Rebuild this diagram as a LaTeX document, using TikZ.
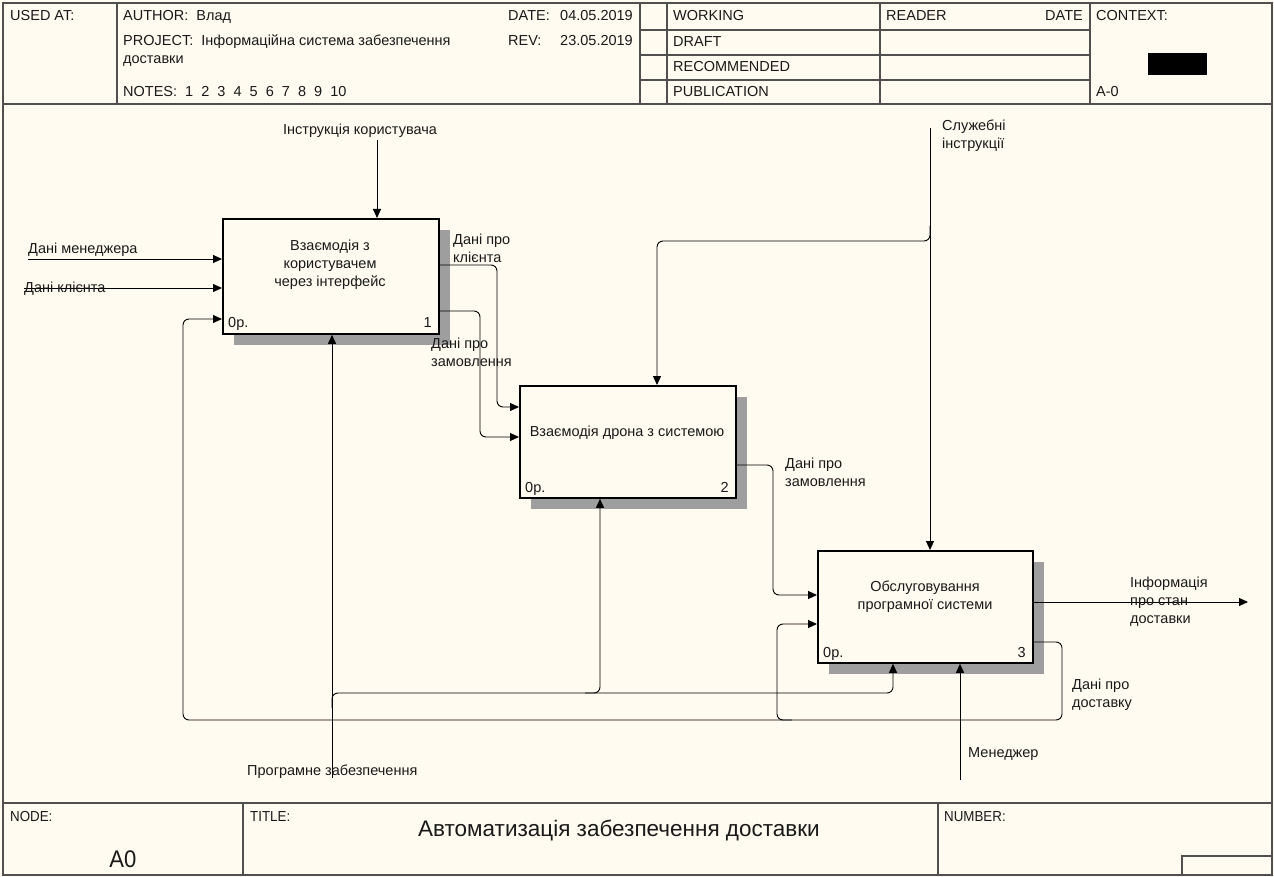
\documentclass[tikz,border=0pt]{standalone}
\usepackage{fontspec}
\setmainfont{Liberation Sans}
\usetikzlibrary{arrows.meta,calc}
\definecolor{bg}{RGB}{255,251,240}
\definecolor{frm}{RGB}{80,80,80}
\begin{document}
\begin{tikzpicture}[x=1pt,y=-1pt,
  every node/.style={font=\fontsize{14.5}{18}\selectfont, inner sep=0pt, text=black!90},
  box/.style={draw, line width=1.8pt, fill=bg, anchor=north west},
  shade/.style={fill=black!38},
  arr/.style={line width=0.9pt, rounded corners=6pt, -{Triangle[length=9pt,width=8pt]}},
  frame/.style={line width=1.4pt, draw=frm},
  hd/.style={anchor=base west},
  hdr/.style={anchor=base east},
  lbl/.style={anchor=west, align=left},
  small/.style={anchor=base west},
]
\fill[bg] (0,0) rectangle (1274,877);
\useasboundingbox (0,0) rectangle (1274,877);

% ---------- frame ----------
\draw[frame, line width=1.8pt] (3,3) rectangle (1272,875);
\draw[frame] (3,104) -- (1272,104);
\draw[frame] (117,3) -- (117,104);
\draw[frame] (640,3) -- (640,104);
\draw[frame] (667,3) -- (667,104);
\draw[frame] (880,3) -- (880,104);
\draw[frame] (1090,3) -- (1090,104);
\draw[frame] (640,30) -- (1090,30);
\draw[frame] (640,55) -- (1090,55);
\draw[frame] (640,80) -- (1090,80);
\fill[black] (1148,53) rectangle (1207,75);

\draw[frame] (3,803) -- (1272,803);
\draw[frame] (243,803) -- (243,875);
\draw[frame] (938,803) -- (938,875);
\draw[frame] (1182,875) -- (1182,856) -- (1272,856);

% header texts
\node[hd] (usedat) at (10,21) {USED AT:};
\node[hd] (author) at (123,21) {AUTHOR:\ \ Влад};
\node[hd] (datel) at (508,21) {DATE:};
\node[hdr] (datev) at (633,21) {04.05.2019};
\node[hd] (project) at (123,46) {PROJECT:\ \ Інформаційна система забезпечення};
\node[hd] (project2) at (123,64) {доставки};
\node[hd] (revl) at (508,46) {REV:};
\node[hdr] (revv) at (633,46) {23.05.2019};
\node[hd] (notes) at (123,97) {NOTES:\ \ 1\ \ 2\ \ 3\ \ 4\ \ 5\ \ 6\ \ 7\ \ 8\ \ 9\ \ 10};
\node[hd] (working) at (673,21) {WORKING};
\node[hd] (draft) at (673,47) {DRAFT};
\node[hd] (recom) at (673,72) {RECOMMENDED};
\node[hd] (publ) at (673,97) {PUBLICATION};
\node[hd] (reader) at (886,21) {READER};
\node[hdr] (rdate) at (1083,21) {DATE};
\node[hd] (context) at (1096,21) {CONTEXT:};
\node[hd] (aminus) at (1096,97) {A-0};

% footer texts
\node[small] (nodel) at (10,821) {\scalebox{0.92}[1]{NODE:}};
\node[small] (titlel) at (250,821) {\scalebox{0.92}[1]{TITLE:}};
\node[small] (numberl) at (944,821) {\scalebox{0.92}[1]{NUMBER:}};
\node[font=\fontsize{22.5}{26}\selectfont, anchor=base] (title) at (619,836) {Автоматизація забезпечення доставки};
\node[font=\fontsize{24}{26}\selectfont, anchor=base] (a0) at (123,867) {\scalebox{0.92}[1]{A0}};

% ---------- shadows ----------
\fill[shade] (234,230) rectangle (450,345);
\fill[shade] (531,397) rectangle (747,509);
\fill[shade] (829,562) rectangle (1044,674);

% ---------- boxes ----------
\node[box, minimum width=216pt, minimum height=115pt] (b1) at (222,218) {};
\node[box, minimum width=216pt, minimum height=112pt] (b2) at (519,385) {};
\node[box, minimum width=215pt, minimum height=112pt] (b3) at (817,550) {};

\node[align=center] (t1) at (330,265) {Взаємодія з\\користувачем\\через інтерфейс};
\node[align=center] (t2) at (627,433) {Взаємодія дрона з системою};
\node[align=center] (t3) at (925,597) {Обслуговування\\програмної системи};

\node[hd] (n1a) at (228,327) {0р.};
\node[hdr] (n1b) at (432,327) {1};
\node[hd] (n2a) at (525,492) {0р.};
\node[hdr] (n2b) at (729,492) {2};
\node[hd] (n3a) at (823,657) {0р.};
\node[hdr] (n3b) at (1026,657) {3};

% ---------- coordinates ----------
\coordinate (ic) at (377,140);
\coordinate (dm) at (28,259);
\coordinate (dk) at (24,288);
\coordinate (pz) at (332,778);
\coordinate (pzb) at (332,693);
\coordinate (m2) at (600,693);
\coordinate (m3) at (893,693);
\coordinate (mg) at (960,780);
\coordinate (si) at (930,128);
\coordinate (sib) at (930,241);
\coordinate (c2) at (657,241);
\coordinate (out) at (1248,602);

% ---------- connectors ----------
\draw[arr] (ic) -- (ic |- b1.north);
\draw[arr] (dm) -- (dm -| b1.west);
\draw[arr] (dk) -- (dk -| b1.west);

\draw[arr] ([yshift=-47pt]b1.north east) -- (497,265) -- (497,407) -- ([yshift=-22pt]b2.north west);
\draw[arr] ([yshift=-93pt]b1.north east) -- (480,311) -- (480,437) -- ([yshift=-52pt]b2.north west);

\draw[arr] ([yshift=-80pt]b2.north east) -- (773,465) -- (773,595) -- ([yshift=-45pt]b3.north west);
\draw[arr] ([yshift=-52pt]b3.north east) -- (out);

\draw[arr] ([yshift=-92pt]b3.north east) -- (1062,642) -- (1062,720) -- (183,720) -- (183,319) -- ([yshift=-101pt]b1.north west);
\draw[arr] (792,720) -- (777,720) -- (777,624) -- ([yshift=-74pt]b3.north west);

\draw[arr] (pz) -- (pz |- b1.south);
\draw[arr] (332,708) -- (pzb) -- (m2) -- (m2 |- b2.south);
\draw[arr] (585,693) -- (m3) -- (m3 |- b3.south);
\draw[arr] (mg) -- (mg |- b3.south);

\draw[arr] (si) -- (si |- b3.north);
\draw[arr] (930,226) -- (sib) -- (c2) -- (c2 |- b2.north);

% ---------- labels ----------
\node[anchor=base] (licl) at (360,135) {Інструкція користувача};
\node[hd] (dml) at (28,254) {Дані менеджера};
\node[hd] (dkl) at (24,293) {Дані клієнта};
\node[lbl] (l1) at (453,248) {Дані про\\клієнта};
\node[lbl] (l2) at (431,352) {Дані про\\замовлення};
\node[lbl] (l3) at (785,472) {Дані про\\замовлення};
\node[lbl] (l4) at (1072,695) {Дані про\\доставку};
\node[lbl] (l5) at (1130,602) {Інформація\\про стан\\доставки};
\node[lbl] (l6) at (942,136) {Служебні\\інструкції};
\node[hd] (pzl) at (247,775) {Програмне забезпечення};
\node[hd] (mgl) at (968,757) {Менеджер};
\end{tikzpicture}
\end{document}
